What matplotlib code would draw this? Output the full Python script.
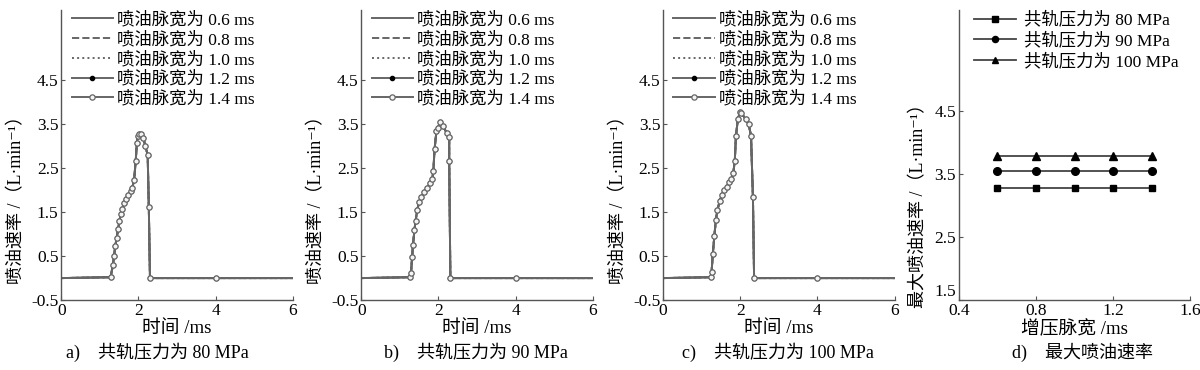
import matplotlib
matplotlib.use("Agg")
import matplotlib.pyplot as plt

plt.rcParams["font.family"] = ["Liberation Serif", "Noto Sans CJK SC", "DejaVu Serif"]
plt.rcParams["font.size"] = 12

# injection rate curves, L/min vs ms
T_80 = [0.0, 1.28, 1.34, 1.37, 1.40, 1.44, 1.47, 1.51, 1.54, 1.58, 1.63, 1.68, 1.74, 1.80, 1.84,
        1.89, 1.93, 1.96, 1.98, 2.02, 2.07, 2.13, 2.18, 2.24, 2.27, 2.30, 4.0, 6.0]
Q_80 = [0.0, 0.02, 0.30, 0.50, 0.73, 0.92, 1.11, 1.30, 1.45, 1.58, 1.71, 1.81, 1.90, 1.98, 2.05,
        2.24, 2.66, 3.08, 3.23, 3.28, 3.27, 3.19, 3.00, 2.81, 1.61, 0.0, 0.0, 0.0]

T_90 = [0.0, 1.26, 1.29, 1.32, 1.34, 1.38, 1.41, 1.45, 1.50, 1.56, 1.62, 1.71, 1.79, 1.84, 1.87,
        1.90, 1.95, 1.99, 2.04, 2.12, 2.21, 2.28, 2.28, 2.31, 4.0, 6.0]
Q_90 = [0.0, 0.02, 0.12, 0.48, 0.75, 1.09, 1.31, 1.54, 1.73, 1.84, 1.95, 2.06, 2.17, 2.25, 2.44,
        2.93, 3.35, 3.42, 3.55, 3.46, 3.31, 3.21, 2.67, 0.0, 0.0, 0.0]

T_100 = [0.0, 1.25, 1.26, 1.29, 1.33, 1.37, 1.41, 1.47, 1.53, 1.57, 1.65, 1.71, 1.77, 1.82, 1.86,
         1.89, 1.94, 1.99, 2.03, 2.14, 2.22, 2.28, 2.33, 2.36, 4.0, 6.0]
Q_100 = [0.0, 0.02, 0.15, 0.55, 0.95, 1.33, 1.55, 1.76, 1.90, 2.00, 2.08, 2.18, 2.25, 2.38, 2.67,
         3.24, 3.61, 3.77, 3.76, 3.61, 3.50, 3.24, 1.84, 0.0, 0.0, 0.0]

PULSE_LABELS = ["喷油脉宽为 0.6 ms", "喷油脉宽为 0.8 ms", "喷油脉宽为 1.0 ms",
                "喷油脉宽为 1.2 ms", "喷油脉宽为 1.4 ms"]

# panel d: maximum injection rate vs pulse width
PULSE_WIDTH = [0.6, 0.8, 1.0, 1.2, 1.4]
QMAX_80 = [3.28, 3.28, 3.28, 3.28, 3.28]
QMAX_90 = [3.55, 3.55, 3.55, 3.55, 3.55]
QMAX_100 = [3.78, 3.78, 3.78, 3.78, 3.78]
PRESSURE_LABELS = ["共轨压力为 80 MPa", "共轨压力为 90 MPa", "共轨压力为 100 MPa"]

CAPTIONS = ["a)    共轨压力为 80 MPa", "b)    共轨压力为 90 MPa",
            "c)    共轨压力为 100 MPa", "d)    最大喷油速率"]

GRAY = "#666666"
YLABEL_RATE = "喷油速率 /（L·min⁻¹）"
YLABEL_MAX = "最大喷油速率 /（L·min⁻¹）"


def style_axes(ax):
    ax.spines["top"].set_visible(False)
    ax.spines["right"].set_visible(False)
    for s in ("left", "bottom"):
        ax.spines[s].set_color("#555555")
        ax.spines[s].set_linewidth(1.0)
    ax.tick_params(direction="in", length=3, color="#555555", labelsize=12.5, pad=2)


def plot_rate(ax, t, q):
    styles = [
        dict(linestyle="-"),
        dict(linestyle="--"),
        dict(linestyle=":"),
        dict(linestyle="-", marker="o", markersize=3, markerfacecolor="black",
             markeredgecolor="black", markevery=slice(1, -1)),
        dict(linestyle="-", marker="o", markersize=3.8, markerfacecolor="#f4f4f4",
             markeredgecolor=GRAY, markeredgewidth=0.9, markevery=slice(1, -1)),
    ]
    for lab, st in zip(PULSE_LABELS, styles):
        ax.plot(t, q, color=GRAY, linewidth=1.4, label=lab, **st)
    ax.set_xlim(0, 6)
    ax.set_ylim(-0.5, 6.1)
    ax.set_xticks([0, 2, 4, 6])
    ax.set_yticks([-0.5, 0.5, 1.5, 2.5, 3.5, 4.5])
    ax.set_yticklabels(["-0.5", "0.5", "1.5", "2.5", "3.5", "4.5"])
    ax.set_xlabel("时间 /ms", fontsize=13.5, labelpad=1)
    ax.set_ylabel(YLABEL_RATE, fontsize=13)
    ax.yaxis.set_label_coords(-0.155, 0.36)
    ax.legend(loc="upper left", bbox_to_anchor=(0.0, 1.03), frameon=False, fontsize=12.5,
              handlelength=2.4, handletextpad=0.2, labelspacing=0.18, borderaxespad=0.2)
    style_axes(ax)


fig = plt.figure(figsize=(12, 3.7), dpi=100)

lefts = [0.051, 0.301, 0.5525, 0.799]
axes = [fig.add_axes([l, 0.189, 0.193, 0.784]) for l in lefts]

plot_rate(axes[0], T_80, Q_80)
plot_rate(axes[1], T_90, Q_90)
plot_rate(axes[2], T_100, Q_100)

ax = axes[3]
ax.plot(PULSE_WIDTH, QMAX_80, color="#444444", linewidth=1.3, marker="s", markersize=5,
        markerfacecolor="black", markeredgecolor="black", label=PRESSURE_LABELS[0])
ax.plot(PULSE_WIDTH, QMAX_90, color="#444444", linewidth=1.3, marker="o", markersize=5.5,
        markerfacecolor="black", markeredgecolor="black", label=PRESSURE_LABELS[1])
ax.plot(PULSE_WIDTH, QMAX_100, color="#444444", linewidth=1.3, marker="^", markersize=6,
        markerfacecolor="black", markeredgecolor="black", label=PRESSURE_LABELS[2])
ax.set_xlim(0.4, 1.6)
ax.set_ylim(1.5, 6.1)
ax.set_xticks([0.4, 0.8, 1.2, 1.6])
ax.set_yticks([1.5, 2.5, 3.5, 4.5])
ax.set_xlabel("增压脉宽 /ms", fontsize=13.5, labelpad=1)
ax.set_ylabel(YLABEL_MAX, fontsize=13)
ax.yaxis.set_label_coords(-0.135, 0.34)
leg = ax.legend(loc="upper left", bbox_to_anchor=(0.02, 1.03), frameon=False, fontsize=12.5,
                handlelength=2.4, handletextpad=0.5, labelspacing=0.22, borderaxespad=0.2,
                markerscale=0.8)
style_axes(ax)
# keep the 1.5 label clear of the 0.4 label
ax.get_yticklabels()[0].set_verticalalignment("bottom")

cap_x = [0.131, 0.397, 0.648, 0.902]
for x, c in zip(cap_x, CAPTIONS):
    fig.text(x, 0.048, c, ha="center", va="center", fontsize=13)

fig.savefig("out.png", dpi=100)
